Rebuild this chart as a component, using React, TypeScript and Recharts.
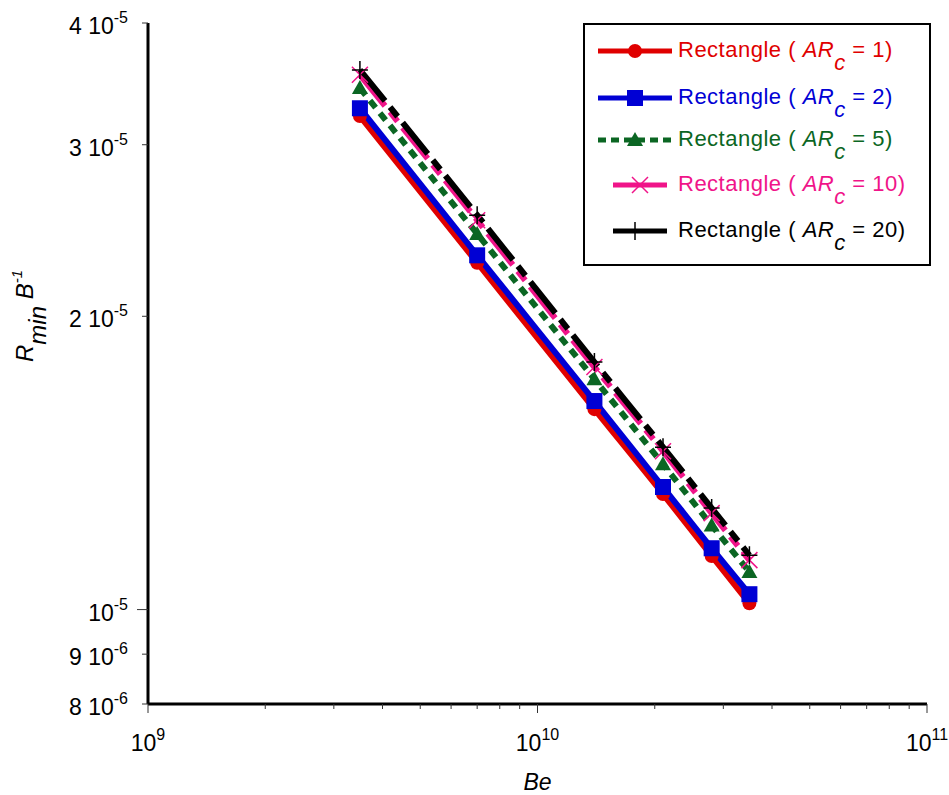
import { Legend, Line, LineChart, XAxis, YAxis } from 'recharts';

const beValues = [3.5e9, 7e9, 1.4e10, 2.1e10, 2.8e10, 3.5e10];
const ar1 = [3.21e-5, 2.27e-5, 1.606e-5, 1.314e-5, 1.135e-5, 1.015e-5];
const ar2 = [3.27e-5, 2.31e-5, 1.637e-5, 1.336e-5, 1.156e-5, 1.037e-5];
const ar5 = [3.43e-5, 2.43e-5, 1.724e-5, 1.41e-5, 1.22e-5, 1.093e-5];
const ar10 = [3.54e-5, 2.51e-5, 1.774e-5, 1.454e-5, 1.256e-5, 1.124e-5];
const ar20 = [3.58e-5, 2.54e-5, 1.795e-5, 1.468e-5, 1.271e-5, 1.137e-5];

const xTicks = [
  1e9, 2e9, 3e9, 4e9, 5e9, 6e9, 7e9, 8e9, 9e9,
  1e10, 2e10, 3e10, 4e10, 5e10, 6e10, 7e10, 8e10, 9e10, 1e11,
];
const xMajor = [1e9, 1e10, 1e11];
const yTicks = [8e-6, 9e-6, 1e-5, 2e-5, 3e-5, 4e-5];
const yLabels = [
  ['8 10', '-6'],
  ['9 10', '-6'],
  ['10', '-5'],
  ['2 10', '-5'],
  ['3 10', '-5'],
  ['4 10', '-5'],
];

const series = [
  { key: 'ar1', ar: '1', values: ar1, color: '#e00000', marker: 'circle', dash: undefined },
  { key: 'ar2', ar: '2', values: ar2, color: '#0000d4', marker: 'square', dash: undefined },
  { key: 'ar5', ar: '5', values: ar5, color: '#0b6623', marker: 'triangle', dash: '9 7' },
  { key: 'ar10', ar: '10', values: ar10, color: '#f01489', marker: 'x', dash: '40 8 12 8' },
  { key: 'ar20', ar: '20', values: ar20, color: '#000000', marker: 'plus', dash: '40 8 12 8' },
];

const data = beValues.map((be, i) => {
  const row: Record<string, number> = { be };
  series.forEach((s) => {
    row[s.key] = s.values[i];
  });
  return row;
});

const FONT = '"Liberation Sans", Arial, sans-serif';

const marker = (type: string, cx: number, cy: number, color: string, key?: string) => {
  switch (type) {
    case 'circle':
      return <circle key={key} cx={cx} cy={cy} r={7} fill={color} />;
    case 'square':
      return <rect key={key} x={cx - 8} y={cy - 8} width={16} height={16} fill={color} />;
    case 'triangle':
      return (
        <path key={key} d={`M${cx},${cy - 8} L${cx + 8},${cy + 6} L${cx - 8},${cy + 6} Z`} fill={color} />
      );
    case 'x':
      return (
        <path
          key={key}
          d={`M${cx - 8},${cy - 8} L${cx + 8},${cy + 8} M${cx - 8},${cy + 8} L${cx + 8},${cy - 8}`}
          stroke={color}
          strokeWidth={1.5}
          fill="none"
        />
      );
    default:
      return (
        <path
          key={key}
          d={`M${cx - 8},${cy} L${cx + 8},${cy} M${cx},${cy - 9} L${cx},${cy + 9}`}
          stroke={color}
          strokeWidth={1.5}
          fill="none"
        />
      );
  }
};

const XTick = (props: any) => {
  const { x, y, payload } = props;
  const major = xMajor.includes(payload.value);
  const exp = Math.round(Math.log10(payload.value));
  return (
    <g>
      <line x1={x} x2={x} y1={y} y2={y + (major ? 9 : 5)} stroke="#333" strokeWidth={1} />
      {major && (
        <text x={x} y={y + 47} textAnchor="middle" fontFamily={FONT} fontSize={23} fill="#000">
          10
          <tspan dy={-11} fontSize={16}>
            {exp}
          </tspan>
        </text>
      )}
    </g>
  );
};

const YTick = (props: any) => {
  const { x, y, payload } = props;
  const i = yTicks.indexOf(payload.value);
  const [main, sup] = yLabels[i] ?? ['', ''];
  return (
    <g>
      <line x1={x} x2={x - (payload.value === 1e-5 ? 11 : 6)} y1={y} y2={y} stroke="#333" strokeWidth={1} />
      <text x={x - 20} y={y + 11} textAnchor="end" fontFamily={FONT} fontSize={23} fill="#000">
        {main}
        <tspan dy={-11} fontSize={16}>
          {sup}
        </tspan>
      </text>
    </g>
  );
};

const rowTops = [26, 73, 115, 160, 206];

const renderLegend = () => (
  <div
    style={{
      position: 'relative',
      width: 344,
      height: 239,
      border: '2px solid #000',
      background: '#fff',
      fontFamily: FONT,
      fontSize: 22,
      letterSpacing: 0.5,
      boxSizing: 'content-box',
    }}
  >
    {series.map((s, i) => {
      const short = i >= 3;
      const x1 = short ? 28 : 13;
      const x2 = short ? 82 : 87;
      const mx = short ? (i === 3 ? 55 : 50) : 50;
      return (
        <div key={s.key} style={{ position: 'absolute', left: 0, top: rowTops[i] - 14, height: 28, width: 344 }}>
          <svg width={92} height={28} style={{ position: 'absolute', left: 0, top: 0 }}>
            <line
              x1={x1}
              x2={x2}
              y1={14}
              y2={14}
              stroke={s.color}
              strokeWidth={5}
              strokeDasharray={i === 2 ? '8 5' : undefined}
            />
            {marker(s.marker, mx, 14, s.color)}
          </svg>
          <div style={{ position: 'absolute', left: 93, top: 0, color: s.color, whiteSpace: 'nowrap', lineHeight: '26px' }}>
            Rectangle ( <i>AR</i>
            <i style={{ position: 'relative', top: 13 }}>c</i> = {s.ar})
          </div>
        </div>
      );
    })}
  </div>
);

const YLabel = () => (
  <text
    transform="translate(33,316) rotate(-90)"
    textAnchor="middle"
    fontFamily={FONT}
    fontSize={24}
    fontStyle="italic"
    fill="#000"
  >
    R
    <tspan dy={13}>min</tspan>
    <tspan dy={-13}> B</tspan>
    <tspan dy={-11} fontSize={15}>
      -1
    </tspan>
  </text>
);

export default function App() {
  return (
    <div style={{ position: 'absolute', left: 0, top: 0, width: 949, height: 795, background: '#fff' }}>
      <LineChart width={949} height={795} data={data} margin={{ top: 23, right: 22, left: 0, bottom: 0 }}>
        <XAxis
          dataKey="be"
          type="number"
          scale="log"
          domain={[1e9, 1e11]}
          allowDataOverflow
          ticks={xTicks}
          interval={0}
          height={91}
          tickLine={false}
          tickSize={0}
          tickMargin={0}
          axisLine={{ stroke: '#000', strokeWidth: 3 }}
          tick={<XTick />}
          label={{
            value: 'Be',
            position: 'insideBottom',
            offset: 5,
            fontFamily: FONT,
            fontSize: 23,
            fontStyle: 'italic',
            fill: '#000',
          }}
        />
        <XAxis
          xAxisId="top"
          orientation="top"
          type="number"
          scale="log"
          domain={[1e9, 1e11]}
          allowDataOverflow
          height={0}
          tick={false}
          tickLine={false}
          axisLine={{ stroke: '#000', strokeWidth: 3 }}
        />
        <YAxis
          type="number"
          scale="log"
          domain={[8e-6, 4e-5]}
          allowDataOverflow
          ticks={yTicks}
          interval={0}
          width={148}
          tickLine={false}
          tickSize={0}
          tickMargin={0}
          axisLine={{ stroke: '#000', strokeWidth: 3 }}
          tick={<YTick />}
          label={<YLabel />}
        />
        <YAxis
          yAxisId="right"
          orientation="right"
          type="number"
          scale="log"
          domain={[8e-6, 4e-5]}
          allowDataOverflow
          width={0}
          tick={false}
          tickLine={false}
          axisLine={{ stroke: '#000', strokeWidth: 3 }}
        />
        {series.map((s) => (
          <Line
            key={s.key}
            dataKey={s.key}
            type="monotone"
            stroke={s.color}
            strokeWidth={6}
            strokeDasharray={s.dash}
            isAnimationActive={false}
            dot={(p: any) => marker(s.marker, p.cx, p.cy, s.color, `${s.key}-${p.index}`)}
            activeDot={false}
          />
        ))}
        <Legend
          layout="vertical"
          align="center"
          verticalAlign="middle"
          wrapperStyle={{ left: 583, top: 23, width: 348, height: 243 }}
          content={renderLegend}
        />
      </LineChart>
    </div>
  );
}
